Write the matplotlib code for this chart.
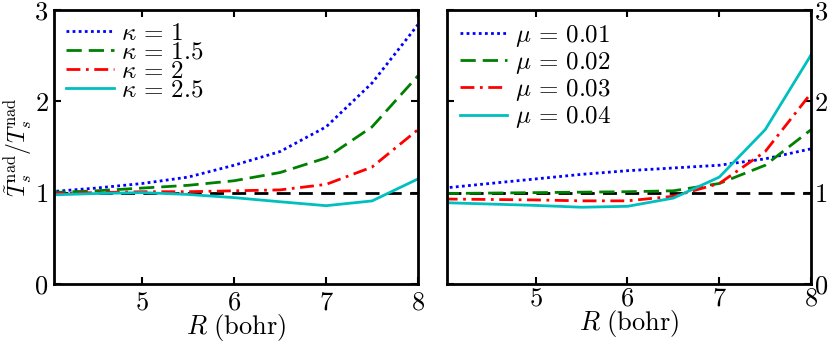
import matplotlib
matplotlib.use("Agg")
import matplotlib.pyplot as plt

plt.rcParams["font.family"] = "serif"
plt.rcParams["font.serif"] = ["cmr10"]
plt.rcParams["mathtext.fontset"] = "cm"
plt.rcParams["axes.unicode_minus"] = False
plt.rcParams["axes.formatter.use_mathtext"] = True

# bond length grid (bohr)
R = [4.0, 4.5, 5.0, 5.5, 6.0, 6.5, 7.0, 7.5, 8.0]

# left panel: kappa series
kappa_labels = [r"$\kappa\,=\,1$", r"$\kappa\,=\,1.5$", r"$\kappa\,=\,2$", r"$\kappa\,=\,2.5$"]
kappa_1 = [1.01, 1.05, 1.10, 1.17, 1.30, 1.45, 1.72, 2.20, 2.84]
kappa_15 = [1.00, 1.02, 1.05, 1.08, 1.13, 1.22, 1.38, 1.72, 2.28]
kappa_2 = [0.99, 1.00, 1.01, 1.01, 1.02, 1.03, 1.09, 1.28, 1.69]
kappa_25 = [0.975, 0.99, 1.00, 0.98, 0.945, 0.90, 0.857, 0.909, 1.15]

# right panel: mu series
mu_labels = [r"$\mu\,=\,0.01$", r"$\mu\,=\,0.02$", r"$\mu\,=\,0.03$", r"$\mu\,=\,0.04$"]
mu_01 = [1.05, 1.10, 1.15, 1.20, 1.24, 1.27, 1.30, 1.37, 1.48]
mu_02 = [0.99, 0.995, 1.00, 1.005, 1.01, 1.02, 1.10, 1.30, 1.69]
mu_03 = [0.93, 0.925, 0.92, 0.91, 0.91, 0.96, 1.10, 1.45, 2.09]
mu_04 = [0.89, 0.875, 0.86, 0.84, 0.85, 0.94, 1.17, 1.69, 2.51]

xticks = [5, 6, 7, 8]
yticks = [0, 1, 2, 3]

colors = ["#0000ff", "#008000", "#ff0000", "#00bfbf"]
styles = [(0, (1, 1.2)), (0, (5.5, 2.5)), (0, (5, 2, 1, 2)), "-"]

fig = plt.figure(figsize=(8.3, 3.45), dpi=100)
ax1 = fig.add_axes([0.065, 0.177, 0.4386, 0.794])
ax2 = fig.add_axes([0.539, 0.177, 0.4383, 0.794])


def style_axis(ax, right=False):
    ax.set_xlim(4.04, 8)
    ax.set_ylim(0, 3)
    ax.set_xticks(xticks)
    ax.set_yticks(yticks)
    ax.tick_params(direction="in", top=True, right=True, length=5, width=1.5,
                   labelsize=19, pad=5)
    ax.tick_params(axis="y", pad=4)
    if right:
        ax.tick_params(labelleft=False, labelright=True, pad=2)
    for s in ax.spines.values():
        s.set_linewidth(2)
    ax.axhline(1, color="k", lw=2, ls=(0, (5, 3)), zorder=1)
    ax.set_xlabel(r"$R\ \mathrm{(bohr)}$", fontsize=19, labelpad=-2)


for ys, lab, c, ls in zip([kappa_1, kappa_15, kappa_2, kappa_25], kappa_labels, colors, styles):
    ax1.plot(R, ys, color=c, ls=ls, lw=2, label=lab)
style_axis(ax1)
ax1.set_ylabel(r"$\tilde{T}_s^{\mathrm{nad}}/T_s^{\mathrm{nad}}$", fontsize=17)
ax1.yaxis.set_label_coords(-0.052, 0.5)
ax1.legend(loc="upper left", frameon=False, fontsize=18, handlelength=1.9,
           handletextpad=0.3, labelspacing=-0.15, borderaxespad=0.2, borderpad=0.3)

for ys, lab, c, ls in zip([mu_01, mu_02, mu_03, mu_04], mu_labels, colors, styles):
    ax2.plot(R, ys, color=c, ls=ls, lw=2, label=lab)
style_axis(ax2, right=True)
ax2.legend(loc="upper left", frameon=False, fontsize=18, handlelength=1.9,
           handletextpad=0.3, labelspacing=0.05, borderaxespad=0.2, borderpad=0.3)

fig.savefig("out.png", dpi=100)
